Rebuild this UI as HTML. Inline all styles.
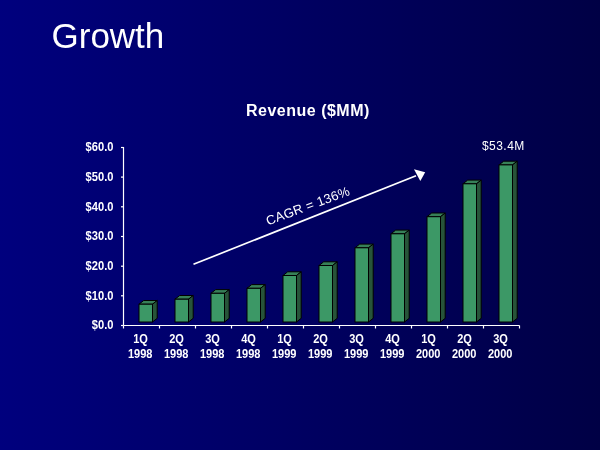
<!DOCTYPE html>
<html><head><meta charset="utf-8">
<style>
html,body{margin:0;padding:0;width:600px;height:450px;overflow:hidden;background:#000066;}
svg{display:block;}
text{font-family:"Liberation Sans",sans-serif;fill:#fff;}
svg{will-change:transform;}
</style></head><body>
<svg width="600" height="450" viewBox="0 0 600 450">
<defs><linearGradient id="bg" x1="0" y1="0" x2="1" y2="0">
<stop offset="0" stop-color="#00007e"/><stop offset="1" stop-color="#000045"/>
</linearGradient></defs>
<rect x="0" y="0" width="600" height="450" fill="url(#bg)"/>
<text x="51.5" y="47.5" style="font-size:35px">Growth</text>
<text x="246" y="116" style="font-size:16px;font-weight:bold;letter-spacing:0.5px">Revenue ($MM)</text>
<g style="font-size:12px;font-weight:bold">
<text transform="translate(113.5,329.4) scale(0.93,1)" text-anchor="end">$0.0</text><text transform="translate(113.5,299.7) scale(0.93,1)" text-anchor="end">$10.0</text><text transform="translate(113.5,270.1) scale(0.93,1)" text-anchor="end">$20.0</text><text transform="translate(113.5,240.4) scale(0.93,1)" text-anchor="end">$30.0</text><text transform="translate(113.5,210.7) scale(0.93,1)" text-anchor="end">$40.0</text><text transform="translate(113.5,181.0) scale(0.93,1)" text-anchor="end">$50.0</text><text transform="translate(113.5,151.4) scale(0.93,1)" text-anchor="end">$60.0</text>
<text transform="translate(140.5,342.8) scale(0.92,1)" text-anchor="middle">1Q</text><text transform="translate(140.2,357.6) scale(0.92,1)" text-anchor="middle">1998</text><text transform="translate(176.5,342.8) scale(0.92,1)" text-anchor="middle">2Q</text><text transform="translate(176.2,357.6) scale(0.92,1)" text-anchor="middle">1998</text><text transform="translate(212.5,342.8) scale(0.92,1)" text-anchor="middle">3Q</text><text transform="translate(212.2,357.6) scale(0.92,1)" text-anchor="middle">1998</text><text transform="translate(248.5,342.8) scale(0.92,1)" text-anchor="middle">4Q</text><text transform="translate(248.2,357.6) scale(0.92,1)" text-anchor="middle">1998</text><text transform="translate(284.5,342.8) scale(0.92,1)" text-anchor="middle">1Q</text><text transform="translate(284.2,357.6) scale(0.92,1)" text-anchor="middle">1999</text><text transform="translate(320.5,342.8) scale(0.92,1)" text-anchor="middle">2Q</text><text transform="translate(320.2,357.6) scale(0.92,1)" text-anchor="middle">1999</text><text transform="translate(356.5,342.8) scale(0.92,1)" text-anchor="middle">3Q</text><text transform="translate(356.2,357.6) scale(0.92,1)" text-anchor="middle">1999</text><text transform="translate(392.5,342.8) scale(0.92,1)" text-anchor="middle">4Q</text><text transform="translate(392.2,357.6) scale(0.92,1)" text-anchor="middle">1999</text><text transform="translate(428.5,342.8) scale(0.92,1)" text-anchor="middle">1Q</text><text transform="translate(428.2,357.6) scale(0.92,1)" text-anchor="middle">2000</text><text transform="translate(464.5,342.8) scale(0.92,1)" text-anchor="middle">2Q</text><text transform="translate(464.2,357.6) scale(0.92,1)" text-anchor="middle">2000</text><text transform="translate(500.5,342.8) scale(0.92,1)" text-anchor="middle">3Q</text><text transform="translate(500.2,357.6) scale(0.92,1)" text-anchor="middle">2000</text>
</g>
<g stroke="#fff" stroke-width="1.2" fill="none">
<line x1="123.5" y1="147" x2="123.5" y2="325.5"/>
<line x1="123.5" y1="325.5" x2="519.5" y2="325.5"/>
<line x1="121.0" y1="325.5" x2="123.5" y2="325.5"/><line x1="121.0" y1="295.8" x2="123.5" y2="295.8"/><line x1="121.0" y1="266.2" x2="123.5" y2="266.2"/><line x1="121.0" y1="236.5" x2="123.5" y2="236.5"/><line x1="121.0" y1="206.8" x2="123.5" y2="206.8"/><line x1="121.0" y1="177.1" x2="123.5" y2="177.1"/><line x1="121.0" y1="147.5" x2="123.5" y2="147.5"/>
<line x1="123.5" y1="325.5" x2="123.5" y2="328.5"/><line x1="159.5" y1="325.5" x2="159.5" y2="328.5"/><line x1="195.5" y1="325.5" x2="195.5" y2="328.5"/><line x1="231.5" y1="325.5" x2="231.5" y2="328.5"/><line x1="267.5" y1="325.5" x2="267.5" y2="328.5"/><line x1="303.5" y1="325.5" x2="303.5" y2="328.5"/><line x1="339.5" y1="325.5" x2="339.5" y2="328.5"/><line x1="375.5" y1="325.5" x2="375.5" y2="328.5"/><line x1="411.5" y1="325.5" x2="411.5" y2="328.5"/><line x1="447.5" y1="325.5" x2="447.5" y2="328.5"/><line x1="483.5" y1="325.5" x2="483.5" y2="328.5"/><line x1="519.5" y1="325.5" x2="519.5" y2="328.5"/>
</g>
<polygon points="139.0,304.2 143.7,300.5 157.2,300.5 152.5,304.2" fill="#378058" stroke="#000000" stroke-width="1"/><polygon points="152.5,304.2 157.2,300.5 157.2,318.3 152.5,322.0" fill="#275439" stroke="#000000" stroke-width="1"/><rect x="139.0" y="304.2" width="13.5" height="17.8" fill="#3c9866" stroke="#000000" stroke-width="1"/><polygon points="175.0,299.2 179.7,295.5 193.2,295.5 188.5,299.2" fill="#378058" stroke="#000000" stroke-width="1"/><polygon points="188.5,299.2 193.2,295.5 193.2,318.3 188.5,322.0" fill="#275439" stroke="#000000" stroke-width="1"/><rect x="175.0" y="299.2" width="13.5" height="22.8" fill="#3c9866" stroke="#000000" stroke-width="1"/><polygon points="211.0,293.3 215.7,289.6 229.2,289.6 224.5,293.3" fill="#378058" stroke="#000000" stroke-width="1"/><polygon points="224.5,293.3 229.2,289.6 229.2,318.3 224.5,322.0" fill="#275439" stroke="#000000" stroke-width="1"/><rect x="211.0" y="293.3" width="13.5" height="28.7" fill="#3c9866" stroke="#000000" stroke-width="1"/><polygon points="247.0,288.3 251.7,284.6 265.2,284.6 260.5,288.3" fill="#378058" stroke="#000000" stroke-width="1"/><polygon points="260.5,288.3 265.2,284.6 265.2,318.3 260.5,322.0" fill="#275439" stroke="#000000" stroke-width="1"/><rect x="247.0" y="288.3" width="13.5" height="33.7" fill="#3c9866" stroke="#000000" stroke-width="1"/><polygon points="283.0,275.5 287.7,271.8 301.2,271.8 296.5,275.5" fill="#378058" stroke="#000000" stroke-width="1"/><polygon points="296.5,275.5 301.2,271.8 301.2,318.3 296.5,322.0" fill="#275439" stroke="#000000" stroke-width="1"/><rect x="283.0" y="275.5" width="13.5" height="46.5" fill="#3c9866" stroke="#000000" stroke-width="1"/><polygon points="319.0,265.5 323.7,261.8 337.2,261.8 332.5,265.5" fill="#378058" stroke="#000000" stroke-width="1"/><polygon points="332.5,265.5 337.2,261.8 337.2,318.3 332.5,322.0" fill="#275439" stroke="#000000" stroke-width="1"/><rect x="319.0" y="265.5" width="13.5" height="56.5" fill="#3c9866" stroke="#000000" stroke-width="1"/><polygon points="355.0,247.8 359.7,244.1 373.2,244.1 368.5,247.8" fill="#378058" stroke="#000000" stroke-width="1"/><polygon points="368.5,247.8 373.2,244.1 373.2,318.3 368.5,322.0" fill="#275439" stroke="#000000" stroke-width="1"/><rect x="355.0" y="247.8" width="13.5" height="74.2" fill="#3c9866" stroke="#000000" stroke-width="1"/><polygon points="391.0,233.8 395.7,230.1 409.2,230.1 404.5,233.8" fill="#378058" stroke="#000000" stroke-width="1"/><polygon points="404.5,233.8 409.2,230.1 409.2,318.3 404.5,322.0" fill="#275439" stroke="#000000" stroke-width="1"/><rect x="391.0" y="233.8" width="13.5" height="88.2" fill="#3c9866" stroke="#000000" stroke-width="1"/><polygon points="427.0,216.7 431.7,213.0 445.2,213.0 440.5,216.7" fill="#378058" stroke="#000000" stroke-width="1"/><polygon points="440.5,216.7 445.2,213.0 445.2,318.3 440.5,322.0" fill="#275439" stroke="#000000" stroke-width="1"/><rect x="427.0" y="216.7" width="13.5" height="105.3" fill="#3c9866" stroke="#000000" stroke-width="1"/><polygon points="463.0,183.8 467.7,180.1 481.2,180.1 476.5,183.8" fill="#378058" stroke="#000000" stroke-width="1"/><polygon points="476.5,183.8 481.2,180.1 481.2,318.3 476.5,322.0" fill="#275439" stroke="#000000" stroke-width="1"/><rect x="463.0" y="183.8" width="13.5" height="138.2" fill="#3c9866" stroke="#000000" stroke-width="1"/><polygon points="499.0,164.9 503.7,161.2 517.2,161.2 512.5,164.9" fill="#378058" stroke="#000000" stroke-width="1"/><polygon points="512.5,164.9 517.2,161.2 517.2,318.3 512.5,322.0" fill="#275439" stroke="#000000" stroke-width="1"/><rect x="499.0" y="164.9" width="13.5" height="157.1" fill="#3c9866" stroke="#000000" stroke-width="1"/>
<text x="482" y="149.5" style="font-size:12px;letter-spacing:0.45px">$53.4M</text>
<g transform="translate(268,225.5) rotate(-20.5)"><text x="0" y="0" style="font-size:13px;letter-spacing:0.25px">CAGR = 136%</text></g>
<line x1="193.5" y1="264.3" x2="416" y2="175.8" stroke="#fff" stroke-width="1.7"/>
<polygon points="425.2,172.2 414,169.2 420.3,181" fill="#fff"/>
</svg>
</body></html>
